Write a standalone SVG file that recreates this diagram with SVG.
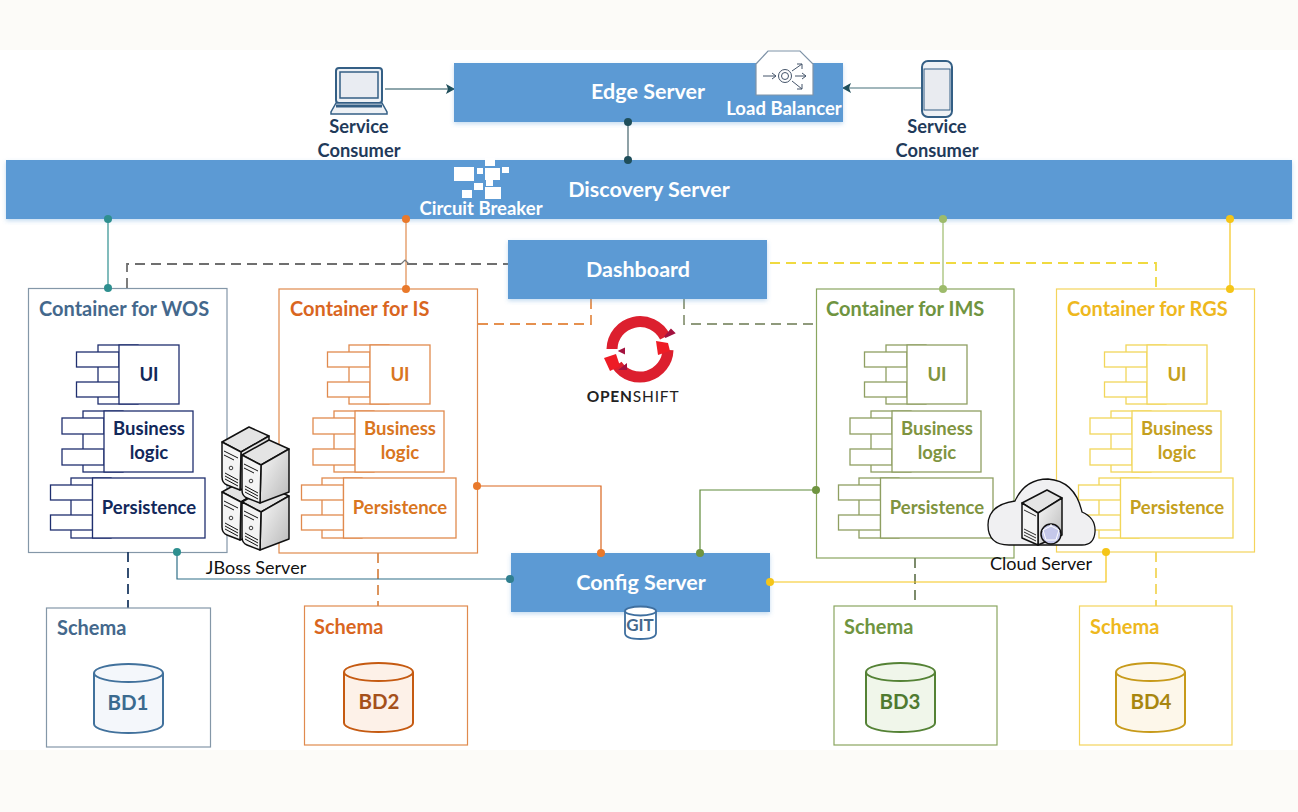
<svg xmlns="http://www.w3.org/2000/svg" xmlns:xlink="http://www.w3.org/1999/xlink" width="1298" height="812" viewBox="0 0 1298 812">
<style>
text{font-family:Lato,"Open Sans","Liberation Sans",sans-serif;font-weight:700;text-anchor:middle}
.blue{fill:#5b9ad4;filter:url(#sh)}
.w{fill:#fff}
.t21{font-size:21.500px}
.lbl{font-size:18.500px;fill:#fff}
.sc{font-size:18.300px;fill:#1f3a5a}
.cap{font-size:18px;font-weight:400;fill:#111}
.box{fill:#fff;stroke-width:1.200}
.ct{font-size:20px;text-anchor:start}
.sch{font-size:20px;text-anchor:start}
.cmp{font-size:18.500px}
.db{font-size:20.500px}
.c{fill:none;stroke-width:1.200}
.d{fill:none;stroke-width:1.800;stroke-dasharray:10 6}
.wos{stroke:#8497a8}.wosT{fill:#44688c}
.is{stroke:#e08a4e}.isT{fill:#d9661f}
.ims{stroke:#8aa660}.imsT{fill:#6f9440}
.rgs{stroke:#f4d45c}.rgsT{fill:#eeb81e}
</style>
<defs>
<filter id="sh" x="-2%" y="-5%" width="104%" height="115%"><feDropShadow dx="0" dy="2" stdDeviation="2" flood-color="#5b9bd5" flood-opacity=".35"/></filter>
<marker id="ah" markerWidth="9" markerHeight="10" refX="8" refY="5" orient="auto" markerUnits="userSpaceOnUse"><path d="M0 0L9 5L0 10L2 5Z" fill="#1f4e5a"/></marker>
<g id="ui" fill="#fff"><rect x="98" y="345" width="40" height="59"/><rect x="76.500" y="352" width="42.500" height="15"/><rect x="76.500" y="382" width="42.500" height="15"/><rect x="119" y="345" width="60" height="59"/></g>
<g id="biz" fill="#fff"><rect x="83" y="411" width="40" height="61"/><rect x="62" y="418" width="42" height="16"/><rect x="62" y="449" width="42" height="16"/><rect x="104" y="411" width="89" height="61"/></g>
<g id="per" fill="#fff"><rect x="71" y="478" width="40" height="60"/><rect x="50.500" y="485" width="42" height="15"/><rect x="50.500" y="515" width="42" height="15"/><rect x="92.500" y="478" width="112.500" height="60"/></g>
<linearGradient id="srv" x1="0" x2="1" y1="0" y2="1"><stop offset="0" stop-color="#fafafa"/><stop offset="1" stop-color="#b8b8b8"/></linearGradient>
<g id="tower" stroke="#111" stroke-width="1.500" stroke-linejoin="round">
<polygon points="0,15 27,0 47,9 19,25" fill="#e4e4e4"/>
<polygon points="19,25 47,9 47,52 18,63" fill="url(#srv)"/>
<path d="M0 15L19 25L18 63L5 58Q0 56 0 50Z" fill="#f4f4f4"/>
<path d="M2 24L16 31M2 28L12 33M3 46L16 53M3 49L16 56M3 52L16 59" stroke-width="1" fill="none"/>
<circle cx="9" cy="41" r="1.800" fill="none" stroke-width=".8"/>
</g>
<g id="cyl" stroke-width="2"><path d="M0 9V60A34.500 9 0 0 0 69 60V9"/><ellipse cx="34.500" cy="9" rx="34.500" ry="9"/></g>
</defs>

<rect width="1298" height="812" fill="#fff"/>
<rect width="1298" height="50" fill="#fcfbf8"/>
<rect y="750" width="1298" height="62" fill="#fcfbf8"/>

<g id="containers">
<g id="container-wos"><rect class="box wos" x="28.500" y="288.500" width="198.500" height="264"/><text class="ct wosT" x="39" y="316">Container for WOS</text></g>
<g id="container-is"><rect class="box is" x="279" y="289" width="198.500" height="264"/><text class="ct isT" x="290" y="316">Container for IS</text></g>
<g id="container-ims"><rect class="box ims" x="816.500" y="289" width="197.500" height="269"/><text class="ct imsT" x="826" y="316">Container for IMS</text></g>
<g id="container-rgs"><rect class="box rgs" x="1056.500" y="289" width="198" height="263"/><text class="ct rgsT" x="1067" y="316">Container for RGS</text></g>
</g>

<g id="connectors">
<path class="c" d="M628 122V160" stroke="#44636b"/>
<path class="c" d="M385 89H454" stroke="#1f4e5a" marker-end="url(#ah)"/>
<path class="c" d="M922 88H843" stroke="#47707a" marker-end="url(#ah)"/>
<path class="c" d="M108 219V288" stroke="#2e8f8f"/>
<path class="c" d="M406 219V289" stroke="#e08a4e"/>
<path class="c" d="M943 219V289" stroke="#9dbb6b"/>
<path class="c" d="M1230 219V289" stroke="#f5c518"/>
<path class="d" d="M127 288V264H508" stroke="#6f6f6f"/>
<path class="c" d="M401 264L405 260L409 264" stroke="#777"/>
<path class="d" d="M770 263H1156V289" stroke="#f0da40"/>
<path class="d" d="M591 299V324H475" stroke="#e5904f"/>
<path class="d" d="M684 299V324H816" stroke="#8f9a7c"/>
<path class="d" d="M128 552V608" stroke="#1f3c64"/>
<path class="d" d="M378 553V606" stroke="#d98a4e"/>
<path class="d" d="M915 558V606" stroke="#6f7f5c"/>
<path class="d" d="M1156 552V606" stroke="#f2d65a"/>
<path class="c" d="M177 552V579H510" stroke="#2f6f88"/>
<path class="c" d="M477 486H601V553" stroke="#d9661f"/>
<path class="c" d="M816 490H700V553" stroke="#5f8a3a"/>
<path class="c" d="M1106 552V582H770" stroke="#f5c518"/>
</g>

<g id="edge-server"><rect class="blue" x="454" y="63" width="389" height="59"/><text class="t21 w" x="648" y="99">Edge Server</text></g>
<g id="discovery-server"><rect class="blue" x="6" y="160" width="1286" height="59"/><text class="t21 w" x="649" y="197">Discovery Server</text></g>
<g id="dashboard"><rect class="blue" x="508" y="240" width="259" height="59"/><text class="t21 w" x="638" y="277">Dashboard</text></g>
<g id="config-server"><rect class="blue" x="511" y="553" width="259" height="59"/><text class="t21 w" x="641" y="590">Config Server</text></g>

<g id="dots">
<circle cx="628" cy="122" r="4" fill="#1f4e5a"/><circle cx="628" cy="160" r="4" fill="#1f4e5a"/>
<circle cx="108" cy="219" r="4" fill="#2e8f8f"/><circle cx="108" cy="288" r="4" fill="#2e8f8f"/>
<circle cx="406" cy="219" r="4" fill="#e9792b"/><circle cx="406" cy="289" r="4" fill="#e9792b"/>
<circle cx="943" cy="219" r="4" fill="#9dbb6b"/><circle cx="943" cy="289" r="4" fill="#9dbb6b"/>
<circle cx="1230" cy="219" r="4" fill="#f5c518"/><circle cx="1230" cy="289" r="4" fill="#f5c518"/>
<circle cx="177" cy="552" r="4" fill="#2e8f8f"/><circle cx="510" cy="579" r="4" fill="#2f7f8f"/>
<circle cx="477" cy="486" r="4" fill="#e9792b"/><circle cx="601" cy="553" r="4" fill="#e9792b"/>
<circle cx="816" cy="490" r="4" fill="#6f9440"/><circle cx="700" cy="553" r="4" fill="#6f9440"/>
<circle cx="1106" cy="552" r="4" fill="#f5c518"/><circle cx="770" cy="582" r="4" fill="#f5c518"/>
</g>

<g id="consumer-laptop">
<rect x="336" y="68" width="46" height="35" rx="3" fill="#eef1f5" stroke="#345f85" stroke-width="2"/><rect x="340" y="72" width="38" height="26" fill="#e9ecf2" stroke="#345f85" stroke-width="1.500"/>
<path d="M336 103L331 112V114H387V112L382 103Z" fill="#eef1f5" stroke="#345f85" stroke-width="1.500"/><path d="M336 106H382" stroke="#345f85" stroke-width="3"/>
<text class="sc" x="359" y="133">Service</text><text class="sc" x="359" y="157">Consumer</text>
</g>
<g id="consumer-phone">
<rect x="922" y="61" width="30" height="56" rx="6" fill="#eef1f5" stroke="#345f85" stroke-width="2"/><rect x="924" y="69" width="26" height="41" fill="#e9ebf0" stroke="#345f85"/>
<text class="sc" x="937" y="133">Service</text><text class="sc" x="937" y="157">Consumer</text>
</g>
<g id="load-balancer">
<path d="M756 64L768 51H800L813 64V95H756Z" fill="#fff" stroke="#7f93a8" stroke-width="1.200"/>
<circle cx="785" cy="76" r="6.500" fill="none" stroke="#44546a"/><circle cx="785" cy="76" r="3.500" fill="none" stroke="#44546a"/>
<path d="M763 76H776M772 73L776 76L772 79M795 76H806M802 73L806 76L802 79M792 71L802 64M797 64H802V69M792 81L802 89M797 89H802V84" stroke="#44546a" fill="none"/>
<text class="lbl" x="784" y="115">Load Balancer</text>
</g>
<g id="circuit-breaker" fill="#fff">
<rect x="454" y="167" width="20" height="14"/><rect x="485" y="158" width="10" height="8"/><rect x="477" y="168" width="6" height="6"/><rect x="485" y="168" width="15" height="12"/><rect x="502" y="167" width="7" height="6"/><rect x="474" y="183" width="9" height="7"/><rect x="486" y="180" width="7" height="6"/><rect x="485" y="187" width="16" height="12"/><rect x="462" y="190" width="10" height="8"/>
<text class="lbl" x="481" y="215">Circuit Breaker</text>
</g>

<g id="wos" stroke="#1f2f6f" stroke-width="1.300">
<use href="#ui"/><use href="#biz"/><use href="#per"/>
<g stroke="none" fill="#12285a"><text class="cmp" x="149" y="381">UI</text><text class="cmp" x="149" y="435">Business</text><text class="cmp" x="149" y="459">logic</text><text class="cmp" x="149" y="514">Persistence</text></g>
</g>
<g id="is" stroke="#e08a4e" stroke-width="1.300" transform="translate(251 0)">
<use href="#ui"/><use href="#biz"/><use href="#per"/>
<g stroke="none" fill="#d9761f"><text class="cmp" x="149" y="381">UI</text><text class="cmp" x="149" y="435">Business</text><text class="cmp" x="149" y="459">logic</text><text class="cmp" x="149" y="514">Persistence</text></g>
</g>
<g id="ims" stroke="#8f9f62" stroke-width="1.300" transform="translate(788 0)">
<use href="#ui"/><use href="#biz"/><use href="#per"/>
<g stroke="none" fill="#7f9440"><text class="cmp" x="149" y="381">UI</text><text class="cmp" x="149" y="435">Business</text><text class="cmp" x="149" y="459">logic</text><text class="cmp" x="149" y="514">Persistence</text></g>
</g>
<g id="rgs" stroke="#f2d65a" stroke-width="1.300" transform="translate(1028 0)">
<use href="#ui"/><use href="#biz"/><use href="#per"/>
<g stroke="none" fill="#c4a020"><text class="cmp" x="149" y="381">UI</text><text class="cmp" x="149" y="435">Business</text><text class="cmp" x="149" y="459">logic</text><text class="cmp" x="149" y="514">Persistence</text></g>
</g>

<g id="jboss-server">
<use href="#tower" transform="translate(222 477)"/>
<use href="#tower" transform="translate(242 487)"/>
<use href="#tower" transform="translate(222 427)"/>
<use href="#tower" transform="translate(242 440)"/>
<text class="cap" x="256" y="574">JBoss Server</text>
</g>

<g id="openshift">
<g fill="none" stroke="#dc1f2e" stroke-width="11">
<path d="M612 349A28 28 0 0 1 665 337"/>
<path d="M668 350A28 28 0 0 1 617 365"/>
</g>
<polygon points="604,358 616,354 620,366 610,371" fill="#ee1c25"/>
<polygon points="656,341 668,343 670,351 658,355" fill="#ee1c25"/>
<path d="M620 351L624 349V353ZM671 330L674 333L665 337ZM621 369L626 365V369Z" fill="#a3123f" stroke="#a3123f" stroke-width="2"/>
<text x="633" y="402" font-size="15.500" fill="#222" letter-spacing=".8">OPEN<tspan font-weight="400">SHIFT</tspan></text>
</g>

<g id="git"><path d="M625 611V633Q625 639 640.500 639Q656 639 656 633V611" fill="#fff" stroke="#3f6f9f" stroke-width="1.800"/><ellipse cx="640.500" cy="611" rx="15.500" ry="4.500" fill="#fff" stroke="#3f6f9f" stroke-width="1.800"/><text x="640" y="631" font-size="17" fill="#44688c">GIT</text></g>

<g id="cloud-server">
<path d="M1009 545Q988 545 988 525Q988 505 1015 501Q1025 479 1048 479Q1075 481 1082 512Q1096 518 1095 532Q1094 545 1082 545Z" fill="#f0f0f2" stroke="#111" stroke-width="1.300"/>
<polygon points="1022,503 1047,490 1062,498 1038,513" fill="#e4e4e4" stroke="#111" stroke-width="1.500" stroke-linejoin="round"/>
<polygon points="1038,513 1062,498 1062,535 1038,545" fill="url(#srv)" stroke="#111" stroke-width="1.500" stroke-linejoin="round"/>
<polygon points="1022,503 1038,513 1038,545 1022,538" fill="#f4f4f4" stroke="#111" stroke-width="1.500" stroke-linejoin="round"/>
<path d="M1024 510L1036 516M1024 529L1036 535M1024 532L1036 538M1024 535L1036 541" stroke="#111" fill="none" stroke-width=".9"/>
<circle cx="1051" cy="534" r="10" fill="#c5c8ea" stroke="#111" stroke-width="1.500"/>
<path d="M1043 530L1051 526L1059 530L1056 540H1046ZM1051 526V524" fill="none" stroke="#fff" stroke-width="1"/>
<text class="cap" x="1041" y="570">Cloud Server</text>
</g>

<g id="schema-1"><rect class="box wos" x="46.500" y="608" width="164" height="139"/><text class="sch wosT" x="57" y="635">Schema</text><use href="#cyl" transform="translate(94 664)" fill="#f4f7fb" stroke="#41719c"/><text class="db" x="128" y="710" fill="#3a6a8f">BD1</text></g>
<g id="schema-2"><rect class="box is" x="304.500" y="606" width="163" height="139"/><text class="sch isT" x="314" y="634">Schema</text><use href="#cyl" transform="translate(344 663)" fill="#fdf1e8" stroke="#c55a11"/><text class="db" x="379" y="709" fill="#a5501a">BD2</text></g>
<g id="schema-3"><rect class="box ims" x="834" y="606" width="163" height="139"/><text class="sch imsT" x="844" y="634">Schema</text><use href="#cyl" transform="translate(866 663)" fill="#f0f6ea" stroke="#548235"/><text class="db" x="900" y="709" fill="#4f7a30">BD3</text></g>
<g id="schema-4"><rect class="box rgs" x="1079.500" y="606" width="152.500" height="139"/><text class="sch rgsT" x="1090" y="634">Schema</text><use href="#cyl" transform="translate(1116 663)" fill="#fdf7ea" stroke="#c79a1a"/><text class="db" x="1151" y="709" fill="#a8860f">BD4</text></g>
</svg>
